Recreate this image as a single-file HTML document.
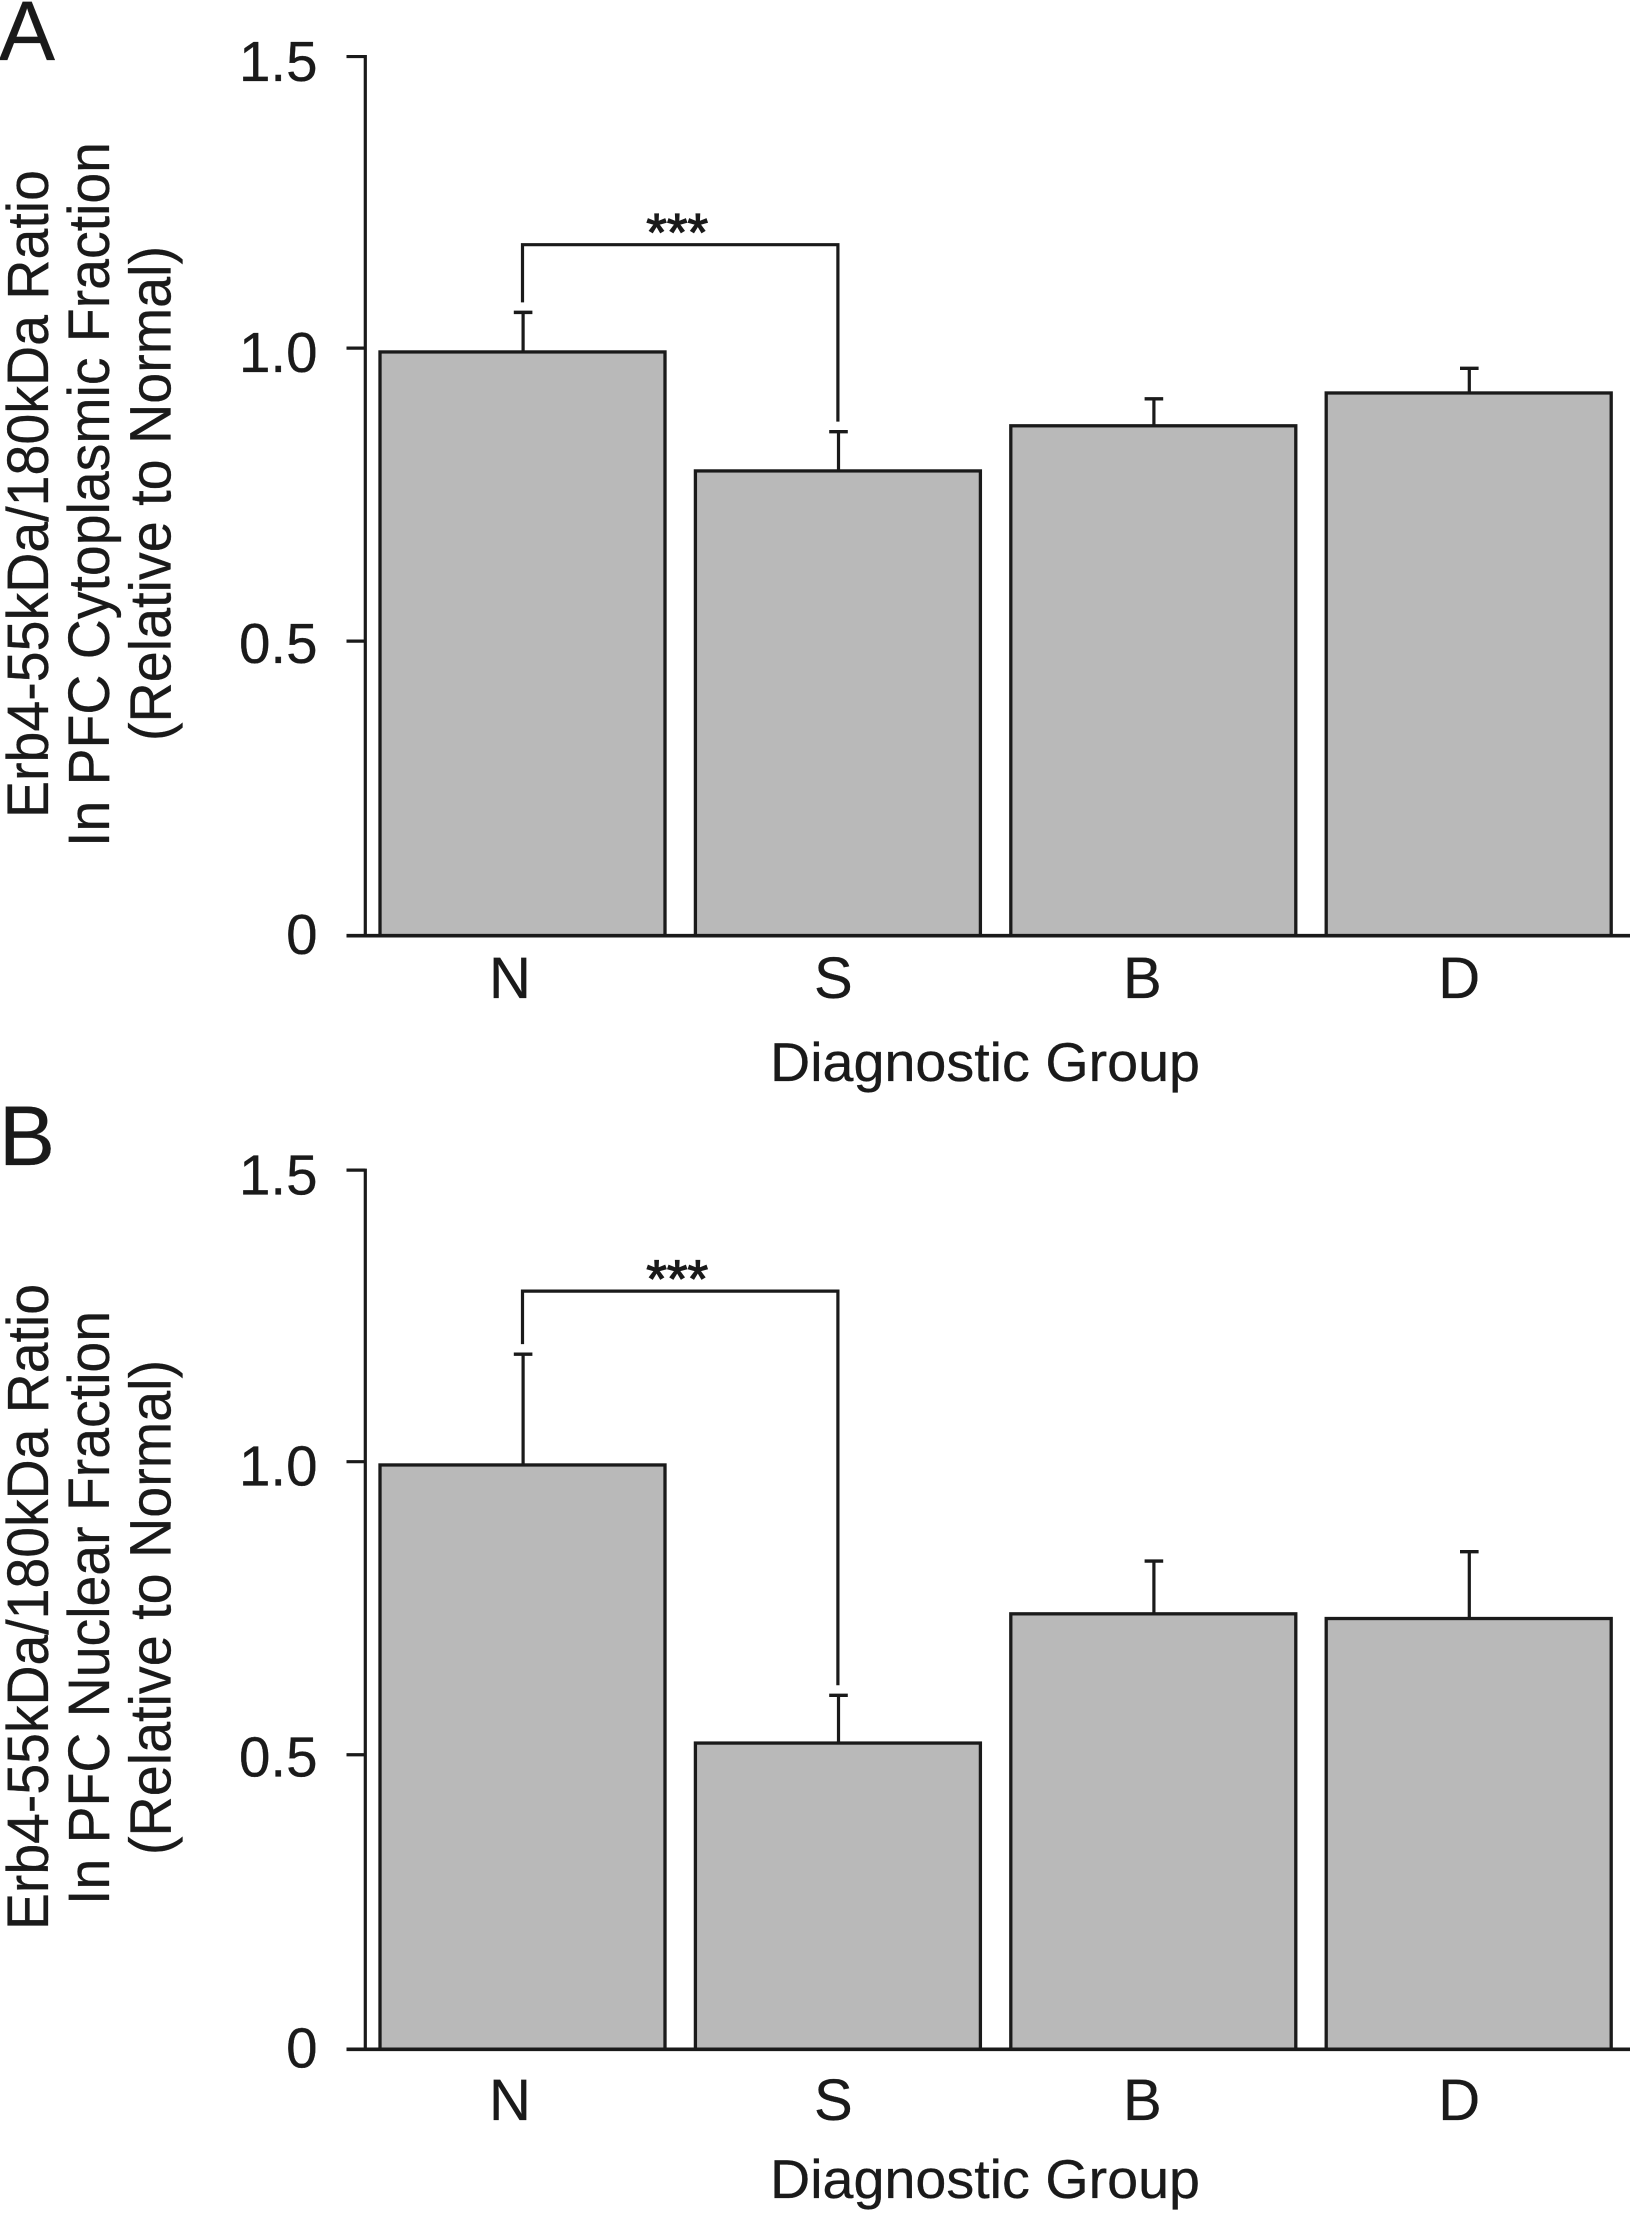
<!DOCTYPE html>
<html lang="en">
<head>
<meta charset="utf-8">
<title>Erb4 55kDa/180kDa ratio by diagnostic group</title>
<style>
  html, body { margin: 0; padding: 0; background: #fff; }
  svg { display: block; }
  text { font-family: "Liberation Sans", Arial, sans-serif; fill: #1a1a1a; stroke: #1a1a1a; stroke-width: 0.3; }
</style>
</head>
<body>
<svg id="figure" xmlns="http://www.w3.org/2000/svg" width="1630" height="2217" viewBox="0 0 1630 2217">
  <rect x="0" y="0" width="1630" height="2217" fill="#fff"/>

  <g id="panel-a">
    <text x="-1" y="60" font-size="84">A</text>
    <text transform="translate(48 818) rotate(-90)" font-size="58" textLength="648" lengthAdjust="spacingAndGlyphs">Erb4-55kDa/180kDa Ratio</text>
    <text transform="translate(109 847) rotate(-90)" font-size="58" textLength="705" lengthAdjust="spacingAndGlyphs">In PFC Cytoplasmic Fraction</text>
    <text transform="translate(170.5 741) rotate(-90)" font-size="58" textLength="495" lengthAdjust="spacingAndGlyphs">(Relative to Normal)</text>
    <text x="770" y="1081" font-size="55" textLength="430" lengthAdjust="spacingAndGlyphs">Diagnostic Group</text>
  </g>

  <g id="panel-b">
    <text x="-1" y="1165" font-size="84">B</text>
    <text transform="translate(48 1930) rotate(-90)" font-size="58" textLength="646" lengthAdjust="spacingAndGlyphs">Erb4-55kDa/180kDa Ratio</text>
    <text transform="translate(109 1905) rotate(-90)" font-size="58" textLength="594" lengthAdjust="spacingAndGlyphs">In PFC Nuclear Fraction</text>
    <text transform="translate(170.5 1855) rotate(-90)" font-size="58" textLength="495" lengthAdjust="spacingAndGlyphs">(Relative to Normal)</text>
    <text x="770" y="2198" font-size="55" textLength="430" lengthAdjust="spacingAndGlyphs">Diagnostic Group</text>
  </g>
</svg>

<script>
// ---- chart data ----
const categories = ['N', 'S', 'B', 'D'];
const yTickValues = [0, 0.5, 1.0, 1.5];
const yTickLabels = ['0', '0.5', '1.0', '1.5'];

const cytoplasmicValues = [0.996, 0.793, 0.870, 0.926];
const cytoplasmicErrorTops = [1.0635, 0.860, 0.916, 0.968];
const cytoplasmicBracketLevel = 1.179;

const nuclearValues = [0.997, 0.5225, 0.743, 0.735];
const nuclearErrorTops = [1.186, 0.604, 0.833, 0.849];
const nuclearBracketLevel = 1.2936;

const significanceMark = '***';
const bracketGroups = ['N', 'S'];

// ---- layout ----
const NS = 'http://www.w3.org/2000/svg';
const INK = '#1a1a1a';
const FILL = '#b9b9b9';
const AXIS_X = 365.3;
const BAR_LEFT = 380;
const BAR_PITCH = 315.4;
const BAR_WIDTH = 285;
const UNIT_PX = 586.1;
const LABEL_UNIT_PX = 582;
const MID_TICK_NUDGE = -1.5;
const xLabelNudge = { N: -12.5, S: -4.5, B: -11, D: -9.5 };

function svgEl(tag, attrs, parent) {
  const node = document.createElementNS(NS, tag);
  for (const k in attrs) node.setAttribute(k, attrs[k]);
  parent.appendChild(node);
  return node;
}

function drawPanel(cfg) {
  const root = document.getElementById(cfg.id);
  const yScale = v => cfg.baseline - v * UNIT_PX;
  const barX = i => BAR_LEFT + i * BAR_PITCH;
  const barCenter = i => barX(i) + BAR_WIDTH / 2;

  // bars
  categories.forEach((cat, i) => {
    const top = yScale(cfg.values[i]);
    const bar = svgEl('rect', { x: barX(i), y: top, width: BAR_WIDTH, height: cfg.baseline - top, fill: FILL, stroke: INK, 'stroke-width': 3.3 }, root);
    
    
  });

  // error bars
  categories.forEach((cat, i) => {
    const cx = barCenter(i) + 0.6;
    const capY = yScale(cfg.errors[i]);
    const stem = svgEl('line', { x1: cx, x2: cx, y1: yScale(cfg.values[i]), y2: capY, stroke: INK, 'stroke-width': 3.2 }, root);
    
    
    const cap = svgEl('line', { x1: cx - 9.3, x2: cx + 9.3, y1: capY, y2: capY, stroke: INK, 'stroke-width': 3.4 }, root);
    
    
  });

  // axes
  const yAxis = svgEl('line', { x1: AXIS_X, x2: AXIS_X, y1: yScale(1.5) - 1.5, y2: cfg.baseline, stroke: INK, 'stroke-width': 3.2 }, root);
  
  
  const xAxis = svgEl('line', { x1: 346.5, x2: 1630, y1: cfg.baseline, y2: cfg.baseline, stroke: INK, 'stroke-width': 3.6 }, root);
  
  

  // y ticks and labels
  yTickValues.forEach((v, i) => {
    if (v !== 0) {
      const tickY = yScale(v) + (v < 1.5 ? MID_TICK_NUDGE : 0);
      const tick = svgEl('line', { x1: 346.5, x2: AXIS_X, y1: tickY, y2: tickY, stroke: INK, 'stroke-width': 3.2 }, root);
      
      
    }
    const lab = svgEl('text', { x: 317.5, y: cfg.baseline + 18.3 - v * LABEL_UNIT_PX, 'text-anchor': 'end', 'font-size': 56.5 }, root);
    lab.textContent = yTickLabels[i];
    
    
  });

  // x labels
  categories.forEach((cat, i) => {
    const lab = svgEl('text', { x: barCenter(i) + (xLabelNudge[cat] || 0), y: cfg.xLabelY, 'text-anchor': 'middle', 'font-size': 58 }, root);
    lab.textContent = cat;
    
    
  });

  // significance bracket
  const a = categories.indexOf(bracketGroups[0]);
  const b = categories.indexOf(bracketGroups[1]);
  const bx1 = barCenter(a), bx2 = barCenter(b);
  const by = yScale(cfg.bracket);
  const gap = 10;
  const bracket = svgEl('path', {
    d: 'M' + bx1 + ' ' + (yScale(cfg.errors[a]) - gap) + 'V' + by + 'H' + bx2 + 'V' + (yScale(cfg.errors[b]) - gap),
    fill: 'none', stroke: INK, 'stroke-width': 3.2
  }, root);
  
  

  const stars = svgEl('text', { x: (bx1 + bx2) / 2 - 3, y: by + 6, 'text-anchor': 'middle', 'font-size': 53 }, root);
  stars.textContent = significanceMark;
  stars.style.strokeWidth = '1.2';
  
  
}

drawPanel({ id: 'panel-a', prefix: 'panel-a', baseline: 935.7, xLabelY: 998, values: cytoplasmicValues, errors: cytoplasmicErrorTops, bracket: cytoplasmicBracketLevel });
drawPanel({ id: 'panel-b', prefix: 'panel-b', baseline: 2049.3, xLabelY: 2120, values: nuclearValues, errors: nuclearErrorTops, bracket: nuclearBracketLevel });
</script>
</body>
</html>
